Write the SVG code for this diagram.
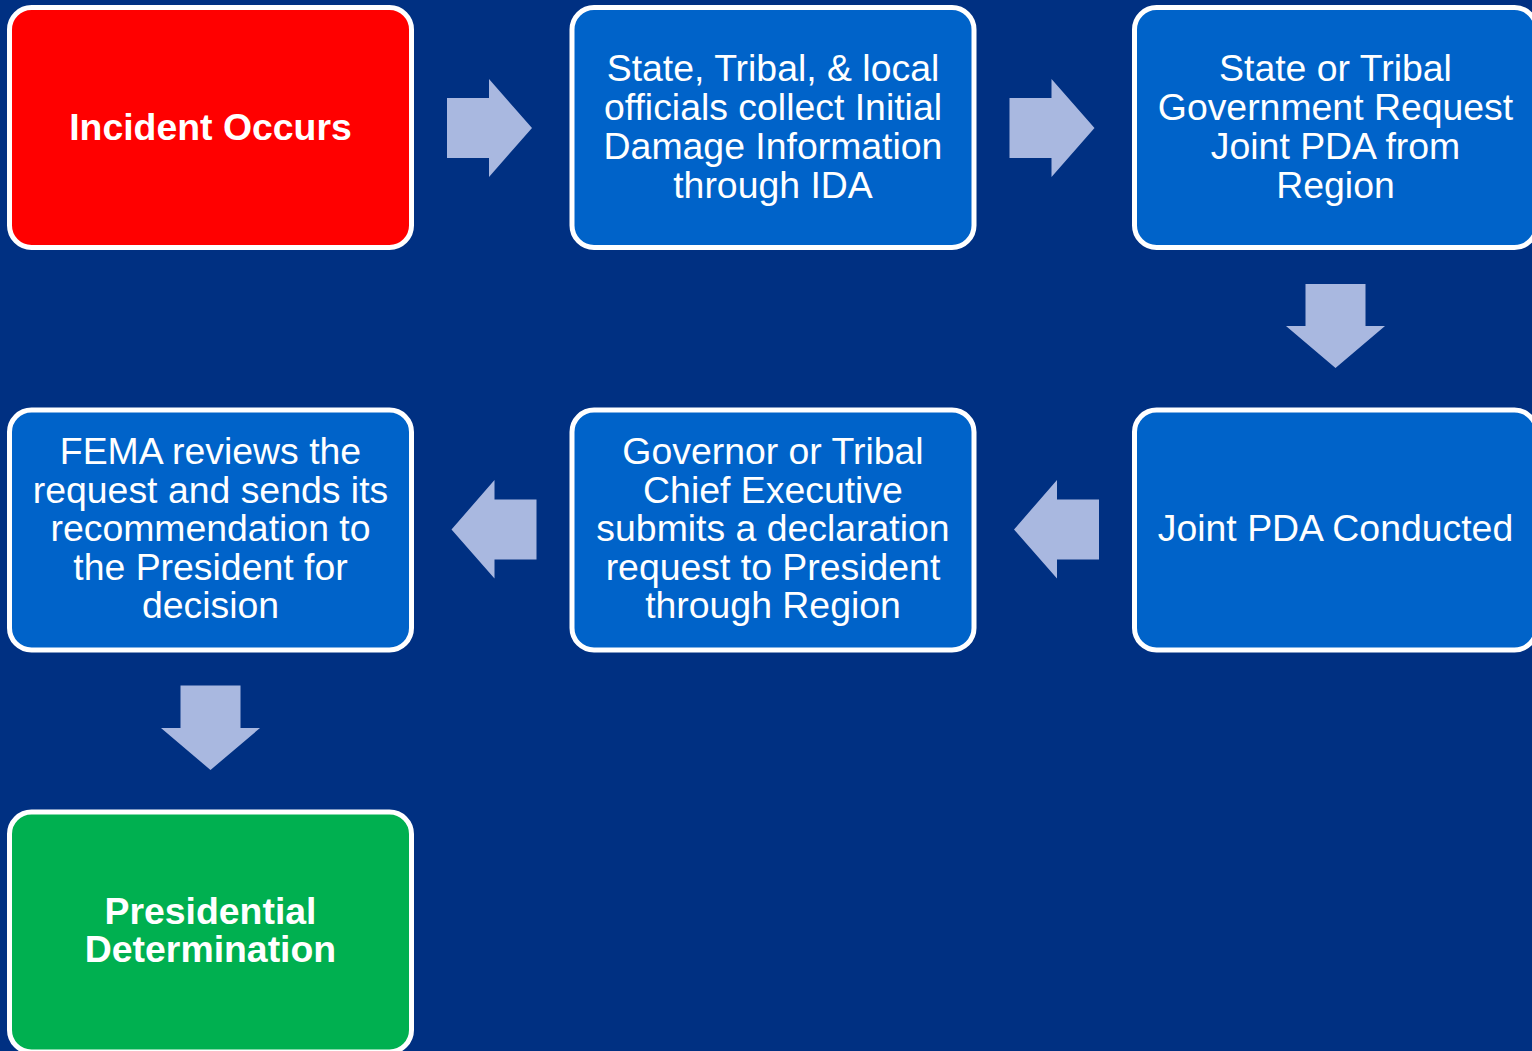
<svg xmlns="http://www.w3.org/2000/svg" width="1532" height="1051" viewBox="0 0 1532 1051">
  <style>
    .box { stroke: #ffffff; stroke-width: 5; }
    .blue { fill: #0063C9; }
    .red { fill: #FF0000; }
    .green { fill: #00B050; }
    .lbl { font-family: "Liberation Sans", Arial, sans-serif; font-size: 37.4px; fill: #ffffff; text-anchor: middle; }
    .bold { font-weight: bold; }
    .arrow { fill: #A9B8E0; }
  </style>
  <rect x="0" y="0" width="1532" height="1051" fill="#003082"/>

  <g id="connectors" class="arrow">
    <polygon points="447,98 489,98 489,79 532,128 489,177 489,158 447,158"/>
    <polygon points="1009.5,98 1051.5,98 1051.5,79 1094.5,128 1051.5,177 1051.5,158 1009.5,158"/>
    <polygon points="1305.5,284 1365.5,284 1365.5,326 1385,326 1335.5,368 1286,326 1305.5,326"/>
    <polygon points="1099,499.5 1057,499.5 1057,480 1014,529.5 1057,578.5 1057,559.5 1099,559.5"/>
    <polygon points="536.5,499.5 494.5,499.5 494.5,480 451.5,529.5 494.5,578.5 494.5,559.5 536.5,559.5"/>
    <polygon points="180.5,685.5 240.5,685.5 240.5,728 260,728 210.5,770 161,728 180.5,728"/>
  </g>

  <g id="node-incident">
    <rect class="box red" x="9.5" y="7.5" width="402" height="240" rx="22"/>
    <text class="lbl bold" x="210.5" y="139.5">Incident Occurs</text>
  </g>

  <g id="node-ida">
    <rect class="box blue" x="572" y="7.5" width="402" height="240" rx="22"/>
    <text class="lbl" x="773" y="81">State, Tribal, &amp; local</text>
    <text class="lbl" x="773" y="120">officials collect Initial</text>
    <text class="lbl" x="773" y="159">Damage Information</text>
    <text class="lbl" x="773" y="198">through IDA</text>
  </g>

  <g id="node-request-pda">
    <rect class="box blue" x="1134.5" y="7.5" width="402" height="240" rx="22"/>
    <text class="lbl" x="1335.5" y="81">State or Tribal</text>
    <text class="lbl" x="1335.5" y="120">Government Request</text>
    <text class="lbl" x="1335.5" y="159">Joint PDA from</text>
    <text class="lbl" x="1335.5" y="198">Region</text>
  </g>

  <g id="node-joint-pda">
    <rect class="box blue" x="1134.5" y="410" width="402" height="240" rx="22"/>
    <text class="lbl" x="1335.5" y="541">Joint PDA Conducted</text>
  </g>

  <g id="node-governor">
    <rect class="box blue" x="572" y="410" width="402" height="240" rx="22"/>
    <text class="lbl" x="773" y="464">Governor or Tribal</text>
    <text class="lbl" x="773" y="503">Chief Executive</text>
    <text class="lbl" x="773" y="541">submits a declaration</text>
    <text class="lbl" x="773" y="580">request to President</text>
    <text class="lbl" x="773" y="618">through Region</text>
  </g>

  <g id="node-fema-review">
    <rect class="box blue" x="9.5" y="410" width="402" height="240" rx="22"/>
    <text class="lbl" x="210.5" y="464">FEMA reviews the</text>
    <text class="lbl" x="210.5" y="503">request and sends its</text>
    <text class="lbl" x="210.5" y="541">recommendation to</text>
    <text class="lbl" x="210.5" y="580">the President for</text>
    <text class="lbl" x="210.5" y="618">decision</text>
  </g>

  <g id="node-determination">
    <rect class="box green" x="9.5" y="812" width="402" height="240" rx="22"/>
    <text class="lbl bold" x="210.5" y="924">Presidential</text>
    <text class="lbl bold" x="210.5" y="962">Determination</text>
  </g>
</svg>
